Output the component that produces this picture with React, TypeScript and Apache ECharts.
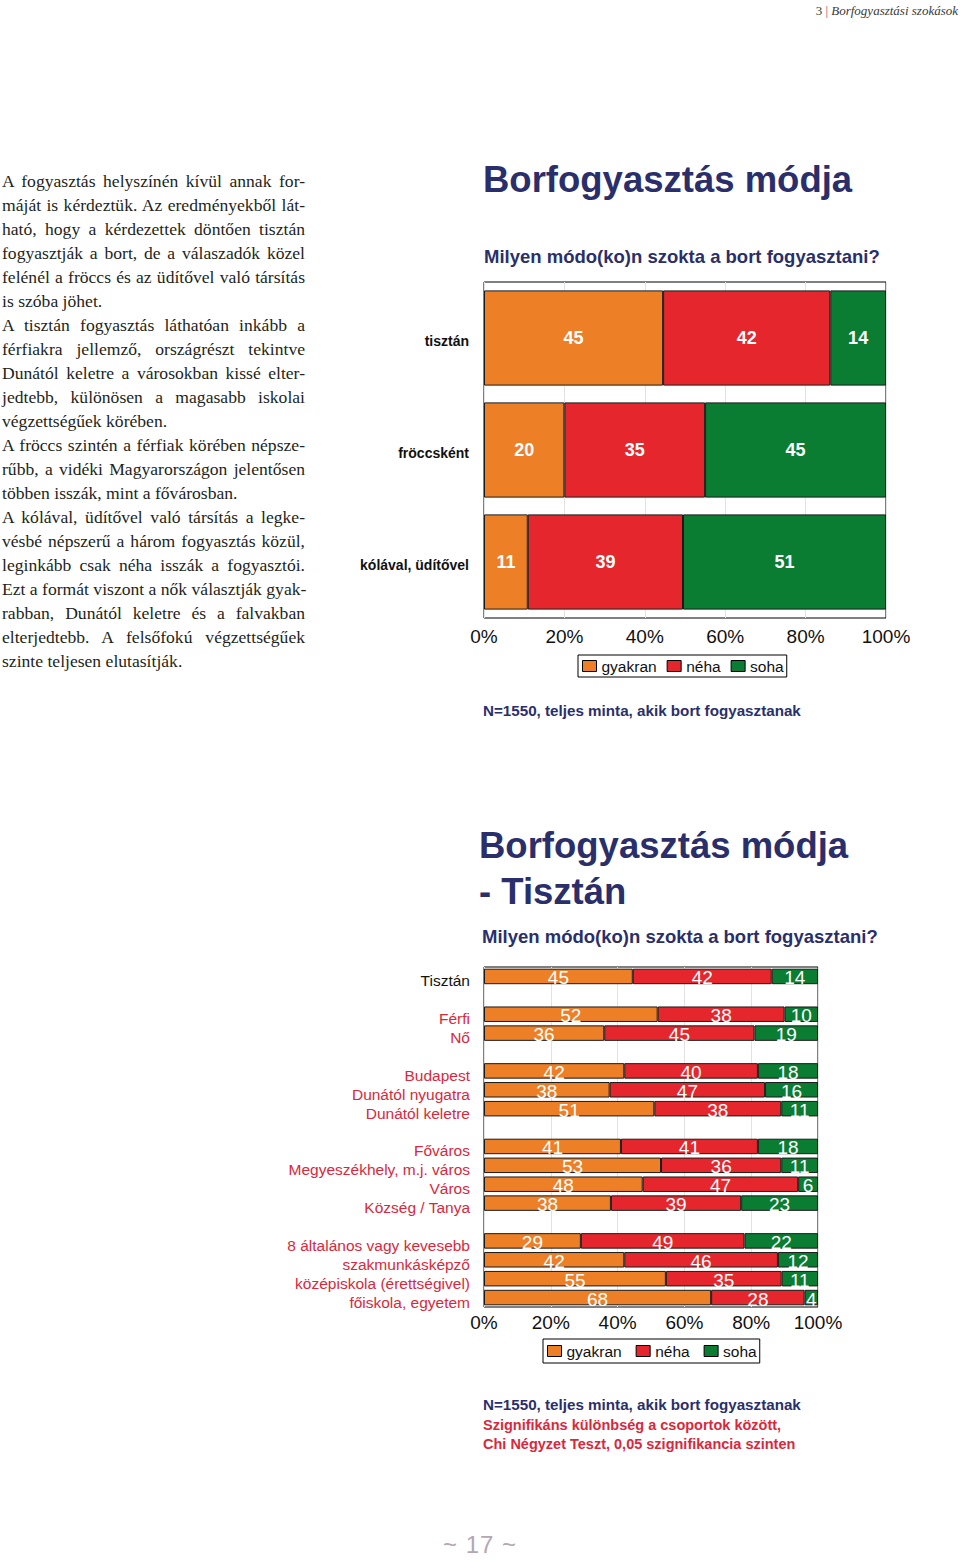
import React, { useEffect, useRef } from "react";
import * as echarts from "echarts";

// ---------- data ----------
const seriesNames = ["gyakran", "néha", "soha"];
const seriesColors = ["#ED7F26", "#E5272D", "#0B7D33"];

const topCategories = ["tisztán", "fröccsként", "kólával, üdítővel"];
const topGyakran = [45, 20, 11];
const topNeha = [42, 35, 39];
const topSoha = [14, 45, 51];

const bottomCategories = [
  "Tisztán",
  "",
  "Férfi",
  "Nő",
  "",
  "Budapest",
  "Dunától nyugatra",
  "Dunától keletre",
  "",
  "Főváros",
  "Megyeszékhely, m.j. város",
  "Város",
  "Község / Tanya",
  "",
  "8 általános vagy kevesebb",
  "szakmunkásképző",
  "középiskola (érettségivel)",
  "főiskola, egyetem",
];
const bottomGyakran = [45, null, 52, 36, null, 42, 38, 51, null, 41, 53, 48, 38, null, 29, 42, 55, 68];
const bottomNeha = [42, null, 38, 45, null, 40, 47, 38, null, 41, 36, 47, 39, null, 49, 46, 35, 28];
const bottomSoha = [14, null, 10, 19, null, 18, 16, 11, null, 18, 11, 6, 23, null, 22, 12, 11, 4];

const xTickLabels = ["0%", "20%", "40%", "60%", "80%", "100%"];

const paragraphLines: [string, boolean][] = [
  ["A fogyasztás helyszínén kívül annak for-", true],
  ["máját is kérdeztük. Az eredményekből lát-", true],
  ["ható, hogy a kérdezettek döntően tisztán", true],
  ["fogyasztják a bort, de a válaszadók közel", true],
  ["felénél a fröccs és az üdítővel való társítás", true],
  ["is szóba jöhet.", false],
  ["A tisztán fogyasztás láthatóan inkább a", true],
  ["férfiakra jellemző, országrészt tekintve", true],
  ["Dunától keletre a városokban kissé elter-", true],
  ["jedtebb, különösen a magasabb iskolai", true],
  ["végzettségűek körében.", false],
  ["A fröccs szintén a férfiak körében népsze-", true],
  ["rűbb, a vidéki Magyarországon jelentősen", true],
  ["többen isszák, mint a fővárosban.", false],
  ["A kólával, üdítővel való társítás a legke-", true],
  ["vésbé népszerű a három fogyasztás közül,", true],
  ["leginkább csak néha isszák a fogyasztói.", true],
  ["Ezt a formát viszont a nők választják gyak-", true],
  ["rabban, Dunától keletre és a falvakban", true],
  ["elterjedtebb. A felsőfokú végzettségűek", true],
  ["szinte teljesen elutasítják.", false],
];

const NAVY = "#2A2F6B";
const RED_TEXT = "#D9283C";
const SANS = "'Liberation Sans', Arial, sans-serif";

function buildSeries(
  groups: (number | null)[][],
  axisIdx: number,
  barWidth: string,
  labelStyle: any
) {
  const totals = groups[0].map((_, i) =>
    groups.reduce((s, g) => s + (g[i] == null ? 0 : (g[i] as number)), 0)
  );
  return groups.map((g, k) => ({
    type: "bar",
    name: seriesNames[k],
    stack: "total" + axisIdx,
    xAxisIndex: axisIdx,
    yAxisIndex: axisIdx,
    barWidth,
    data: g.map((v, i) => (v == null ? null : ((v as number) / totals[i]) * 100)),
    itemStyle: { color: seriesColors[k], borderColor: "#1a1a1a", borderWidth: 1 },
    label: {
      show: true,
      position: "inside",
      formatter: (p: any) => (g[p.dataIndex] == null ? "" : String(g[p.dataIndex])),
      fontFamily: SANS,
      color: "#ffffff",
      ...labelStyle,
    },
    emphasis: { disabled: true },
  }));
}

function textEl(x: number, y: number, text: string, size: number, color: string, weight = "bold") {
  return {
    type: "text",
    x,
    y,
    style: {
      text,
      fill: color,
      fontSize: size,
      fontWeight: weight,
      fontFamily: SANS,
      align: "left",
      verticalAlign: "middle",
    },
  };
}

const Chart: React.FC = () => {
  const ref = useRef<HTMLDivElement>(null);
  useEffect(() => {
    if (!ref.current) return;
    const chart = echarts.init(ref.current, undefined, { renderer: "svg" });
    const xAxisBase = (margin: number) => ({
      type: "value",
      min: 0,
      max: 100,
      interval: 20,
      axisLine: { show: false },
      axisTick: { show: false },
      splitLine: { show: true, lineStyle: { color: "#e2e2e2", width: 1 } },
      axisLabel: {
        formatter: (v: number) => xTickLabels[Math.round(v / 20)],
        fontSize: 19,
        color: "#111",
        fontFamily: SANS,
        margin,
      },
    });
    const legendBase = (left: number, top: number, gap: number, pad: number[]) => ({
      data: seriesNames,
      left,
      top,
      orient: "horizontal",
      icon: "rect",
      itemWidth: 14,
      itemHeight: 11,
      itemGap: gap,
      padding: pad,
      borderColor: "#000",
      borderWidth: 1,
      selectedMode: false,
      itemStyle: { borderColor: "#000", borderWidth: 1 },
      textStyle: { fontSize: 15.5, color: "#111", fontFamily: SANS },
    });

    chart.setOption({
      animation: false,
      backgroundColor: "#ffffff",
      grid: [
        { left: 484, top: 282, width: 402, height: 336, show: true, borderColor: "#000", borderWidth: 1, backgroundColor: "transparent" },
        { left: 484, top: 967, width: 334, height: 340, show: true, borderColor: "#000", borderWidth: 1, backgroundColor: "transparent" },
      ],
      xAxis: [
        { ...xAxisBase(9), gridIndex: 0 },
        { ...xAxisBase(6), gridIndex: 1 },
      ],
      yAxis: [
        {
          type: "category",
          gridIndex: 0,
          inverse: true,
          data: topCategories,
          axisLine: { show: false },
          axisTick: { show: false },
          axisLabel: {
            margin: 15,
            formatter: (v: string) => `{t|${v}}`,
            rich: {
              t: {
                fontSize: 14,
                fontWeight: "bold",
                color: "#111",
                fontFamily: SANS,
                padding: [5, 0, 0, 0],
              },
            },
          },
        },
        {
          type: "category",
          gridIndex: 1,
          inverse: true,
          data: bottomCategories,
          axisLine: { show: false },
          axisTick: { show: false },
          axisLabel: {
            margin: 14,
            interval: 0,
            formatter: (v: string, i: number) => (v ? (i === 0 ? `{k|${v}}` : `{r|${v}}`) : ""),
            rich: {
              k: { fontSize: 15.5, color: "#111", fontFamily: SANS, padding: [9, 0, 0, 0] },
              r: { fontSize: 15.5, color: RED_TEXT, fontFamily: SANS, padding: [9, 0, 0, 0] },
            },
          },
        },
      ],
      legend: [legendBase(578, 655, 10, [3, 3, 3, 4]), legendBase(543, 1339, 14, [4, 3, 4, 4])],
      series: [
        ...buildSeries([topGyakran, topNeha, topSoha], 0, "85%", { fontSize: 18, fontWeight: "bold" }),
        ...buildSeries([bottomGyakran, bottomNeha, bottomSoha], 1, "82%", {
          fontSize: 19,
          fontWeight: "normal",
          offset: [0, 1.5],
        }),
      ],
      graphic: [
        textEl(483, 179, "Borfogyasztás módja", 36.5, NAVY),
        textEl(484, 256, "Milyen módo(ko)n szokta a bort fogyasztani?", 18.5, NAVY),
        textEl(483, 710, "N=1550, teljes minta, akik bort fogyasztanak", 15.2, NAVY),
        textEl(479, 845, "Borfogyasztás módja", 36.5, NAVY),
        textEl(479, 891, "- Tisztán", 36.5, NAVY),
        textEl(482, 936, "Milyen módo(ko)n szokta a bort fogyasztani?", 18.5, NAVY),
        textEl(483, 1404, "N=1550, teljes minta, akik bort fogyasztanak", 15.2, NAVY),
        textEl(483, 1425, "Szignifikáns különbség a csoportok között,", 14.5, RED_TEXT),
        textEl(483, 1444, "Chi Négyzet Teszt, 0,05 szignifikancia szinten", 14.5, RED_TEXT),
      ],
    });
    return () => chart.dispose();
  }, []);
  return <div ref={ref} style={{ position: "absolute", left: 0, top: 0, width: 960, height: 1560 }} />;
};

export default function App() {
  return (
    <div style={{ position: "absolute", left: 0, top: 0, width: 960, height: 1560, background: "#fff", overflow: "hidden" }}>
      <Chart />
      <div
        style={{
          position: "absolute",
          right: 2,
          top: 3,
          fontFamily: "'Liberation Serif', serif",
          fontSize: 13,
          color: "#3a3a3a",
          whiteSpace: "nowrap",
          lineHeight: "16px",
        }}
      >
        3 <span style={{ color: "#9B3F66" }}>|</span> <i>Borfogyasztási szokások</i>
      </div>
      <div
        style={{
          position: "absolute",
          left: 2,
          top: 169,
          width: 303,
          fontFamily: "'Liberation Serif', serif",
          fontSize: 17.6,
          lineHeight: "24px",
          color: "#231f20",
        }}
      >
        {paragraphLines.map(([t, just], i) => (
          <div
            key={i}
            style={{
              height: 24,
              textAlign: just ? "justify" : "left",
              textAlignLast: just ? "justify" : "left",
              whiteSpace: "nowrap",
            }}
          >
            {t}
          </div>
        ))}
      </div>
      <div
        style={{
          position: "absolute",
          left: 380,
          width: 200,
          top: 1531,
          textAlign: "center",
          fontFamily: "'Liberation Sans', sans-serif",
          fontSize: 24,
          color: "#B4A6B4",
          lineHeight: "28px",
          letterSpacing: 1,
        }}
      >
        ~ 17 ~
      </div>
    </div>
  );
}
